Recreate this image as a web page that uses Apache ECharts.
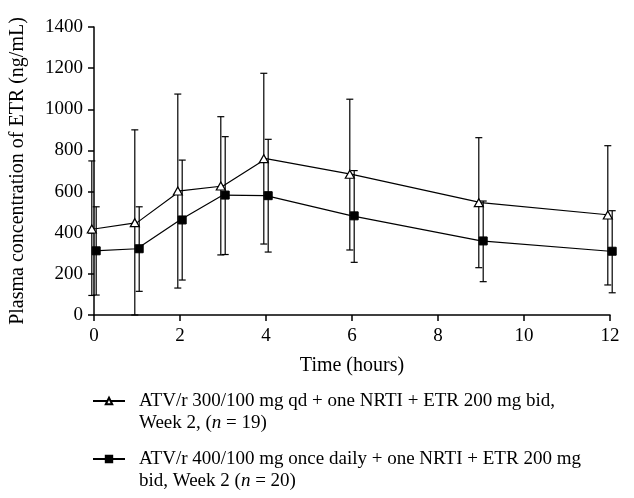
<!DOCTYPE html>
<html>
<head>
<meta charset="utf-8">
<script src="https://cdn.jsdelivr.net/npm/echarts@6/dist/echarts.min.js"></script>
<style>
  html, body { margin: 0; padding: 0; background: #fff; }
  #main { width: 634px; height: 498px; }
</style>
</head>
<body>
<div id="main"></div>
<script>
// sampling times (hours)
const times = [0, 1, 2, 3, 4, 6, 9, 12];
// ATV/r 300/100 qd group: mean and error bar ends
const qdMean = [418, 449, 603, 627, 760, 684, 546, 486];
const qdHigh = [749, 900, 1074, 964, 1175, 1049, 862, 823];
const qdLow = [95, 0, 131, 292, 345, 316, 230, 146];
// ATV/r 400/100 once daily group
const odMean = [312, 322, 462, 583, 580, 482, 360, 310];
const odHigh = [526, 526, 753, 867, 854, 702, 554, 507];
const odLow = [97, 115, 170, 294, 306, 256, 162, 108];
const xTicks = [0, 2, 4, 6, 8, 10, 12];

const FONT = 'Liberation Serif';
const nameQd = 'qd';
const nameOd = 'od';

const chart = echarts.init(document.getElementById('main'));

// vertical error bar with caps, shifted dx pixels so the two groups don't overlap
function errorBars(low, high, dx) {
  return {
    type: 'custom',
    z: 1,
    silent: true,
    data: times.map((t, i) => [t, low[i], high[i]]),
    encode: { x: 0, y: [1, 2] },
    renderItem: function (params, api) {
      const lo = api.coord([api.value(0), api.value(1)]);
      const hi = api.coord([api.value(0), api.value(2)]);
      const x = lo[0] + dx;
      const w = 3.5;
      const st = { stroke: '#000', lineWidth: 1.2 };
      return {
        type: 'group',
        children: [
          { type: 'line', shape: { x1: x, y1: lo[1], x2: x, y2: hi[1] }, style: st },
          { type: 'line', shape: { x1: x - w, y1: hi[1], x2: x + w, y2: hi[1] }, style: st },
          { type: 'line', shape: { x1: x - w, y1: lo[1], x2: x + w, y2: lo[1] }, style: st }
        ]
      };
    }
  };
}

const legendText = {
  qd: '{t|ATV/r 300/100 mg qd + one NRTI + ETR 200 mg bid,}\n{t|Week 2, (}{i|n}{t| = 19)}',
  od: '{t|ATV/r 400/100 mg once daily + one NRTI + ETR 200 mg}\n{t|bid, Week 2 (}{i|n}{t| = 20)}'
};

// one legend block per series; top padding keeps the icon on the first text line
function legendBlock(name, top) {
  return {
    orient: 'vertical',
    left: 92,
    top: top,
    padding: 0,
    itemWidth: 32,
    itemHeight: 8,
    data: [name],
    formatter: function (n) { return legendText[n]; },
    textStyle: {
      color: '#000',
      fontFamily: FONT,
      fontSize: 19,
      lineHeight: 22,
      padding: [22, 0, 0, 9],
      rich: {
        t: { fontFamily: FONT, fontSize: 19, lineHeight: 22, color: '#000' },
        i: { fontFamily: FONT, fontSize: 19, lineHeight: 22, color: '#000', fontStyle: 'italic' }
      }
    }
  };
}

const option = {
  animation: false,
  backgroundColor: '#fff',
  grid: { left: 93, right: 24, top: 27, bottom: 183 },
  legend: [legendBlock(nameQd, 368), legendBlock(nameOd, 426)],
  xAxis: {
    type: 'value',
    min: 0,
    max: 12,
    interval: 2,
    name: 'Time (hours)',
    nameLocation: 'middle',
    nameGap: 41,
    nameTextStyle: { color: '#000', fontFamily: FONT, fontSize: 20 },
    axisLine: { lineStyle: { color: '#000', width: 1.5 } },
    axisTick: { length: 6, lineStyle: { color: '#000', width: 1.5 } },
    axisLabel: {
      color: '#000', fontFamily: FONT, fontSize: 19, margin: 12,
      formatter: function (v) { return xTicks.indexOf(v) >= 0 ? String(v) : ''; }
    },
    splitLine: { show: false }
  },
  yAxis: {
    type: 'value',
    min: 0,
    max: 1400,
    interval: 200,
    name: 'Plasma concentration of ETR (ng/mL)',
    nameLocation: 'middle',
    nameRotate: 90,
    nameGap: 66,
    nameTextStyle: { color: '#000', fontFamily: FONT, fontSize: 20 },
    axisLine: { show: true, lineStyle: { color: '#000', width: 1.5 } },
    axisTick: { show: true, length: 6, lineStyle: { color: '#000', width: 1.5 } },
    axisLabel: {
      color: '#000', fontFamily: FONT, fontSize: 19, margin: 11,
      formatter: function (v) { return String(v); }
    },
    splitLine: { show: false }
  },
  series: [
    errorBars(qdLow, qdHigh, -2.2),
    errorBars(odLow, odHigh, 2.2),
    {
      name: nameQd,
      type: 'line',
      z: 3,
      data: times.map((t, i) => [t, qdMean[i]]),
      symbol: 'triangle',
      symbolSize: [9, 8],
      symbolOffset: [-2.2, 0],
      showAllSymbol: true,
      lineStyle: { color: '#000', width: 1.2 },
      itemStyle: { color: '#fff', borderColor: '#000', borderWidth: 1.2 }
    },
    {
      name: nameOd,
      type: 'line',
      z: 3,
      data: times.map((t, i) => [t, odMean[i]]),
      symbol: 'rect',
      symbolSize: 8,
      symbolOffset: [2.2, 0],
      showAllSymbol: true,
      lineStyle: { color: '#000', width: 1.2 },
      itemStyle: { color: '#000', borderColor: '#000', borderWidth: 1 }
    }
  ]
};

chart.setOption(option);
</script>
</body>
</html>
